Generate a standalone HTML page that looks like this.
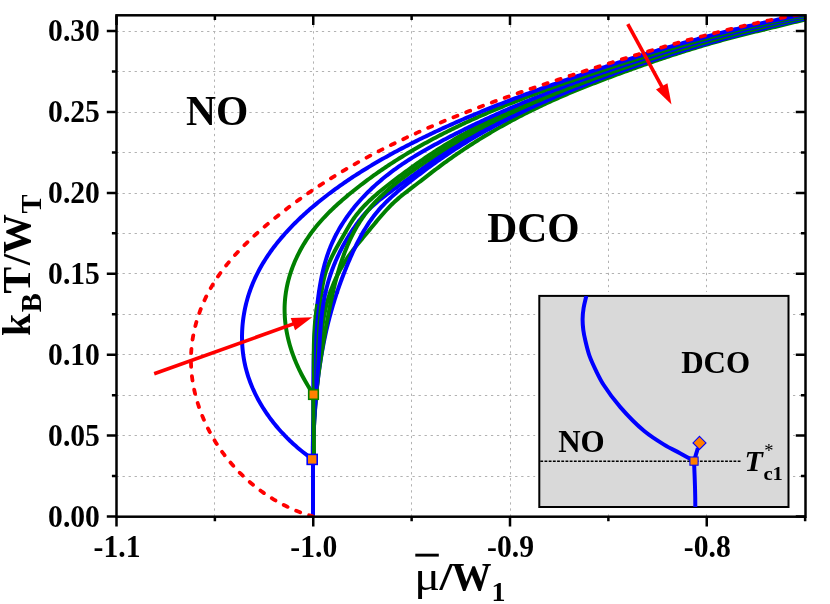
<!DOCTYPE html>
<html><head><meta charset="utf-8"><title>Phase diagram</title>
<style>html,body{margin:0;padding:0;background:#fff}body{width:830px;height:604px;overflow:hidden}svg{display:block;will-change:transform}text{font-family:"Liberation Serif",serif;font-weight:bold;fill:#000}</style></head><body>
<svg width="830" height="604" viewBox="0 0 830 604">
<rect x="0" y="0" width="830" height="604" fill="#fff"/>
<defs><clipPath id="pc"><rect x="116.5" y="15.3" width="689" height="501.4"/></clipPath><clipPath id="ic"><rect x="539.3" y="295.9" width="249.2" height="211.1"/></clipPath></defs>
<path d="M214.5 516.7V15.3M313.5 516.7V15.3M411.5 516.7V15.3M510.5 516.7V15.3M608.5 516.7V15.3M706.5 516.7V15.3M116.5 476.5H805.5M116.5 435.5H805.5M116.5 395.5H805.5M116.5 354.5H805.5M116.5 314.5H805.5M116.5 273.5H805.5M116.5 233.5H805.5M116.5 193.5H805.5M116.5 152.5H805.5M116.5 112.5H805.5M116.5 71.5H805.5M116.5 31.5H805.5" fill="none" stroke="#b2b2b2" stroke-width="1" stroke-dasharray="2.3 3.74"/>
<g clip-path="url(#pc)" fill="none" stroke-width="4" stroke-linejoin="round">
<path d="M330.31 292.02L330.99 290.12L331.69 288.24L332.42 286.36L333.18 284.49L333.96 282.63L334.77 280.78L335.6 278.95L336.46 277.12L337.34 275.3L338.24 273.5L339.17 271.71L340.12 269.93L341.09 268.17L342.09 266.42L343.11 264.68L344.15 262.96L345.22 261.26L346.3 259.57L347.41 257.89L348.54 256.24L349.69 254.6L350.86 252.97L352.05 251.36L353.25 249.77L354.47 248.19L355.71 246.62L356.95 245.06L358.21 243.5L359.47 241.95L360.75 240.41L362.03 238.87L363.31 237.33L364.59 235.8L365.88 234.26L367.16 232.72L368.44 231.17L369.72 229.63L371.01 228.08L372.29 226.53L373.57 224.98L374.85 223.43L376.14 221.88L377.43 220.34L378.72 218.8L380.03 217.27L381.34 215.74L382.66 214.23L383.99 212.73L385.33 211.24L386.68 209.76L388.05 208.3L389.44 206.86L390.84 205.43L392.26 204.03L393.7 202.64L395.17 201.28L396.65 199.94L398.15 198.63L399.68 197.33L401.22 196.06L402.77 194.79L404.34 193.55L405.92 192.31L407.5 191.08L409.1 189.86L410.69 188.64L412.3 187.42L413.9 186.2L415.5 184.98L417.1 183.76L418.69 182.53L420.29 181.3L421.88 180.06L423.48 178.83L425.07 177.6L426.66 176.36L428.26 175.13L429.85 173.89L431.45 172.66L433.05 171.44L434.65 170.21L436.26 168.99L437.86 167.78L439.48 166.57L441.09 165.36L442.71 164.17L444.33 162.98L445.96 161.79L447.59 160.61L449.23 159.44L450.87 158.28L452.52 157.12L454.16 155.96L455.82 154.82L457.47 153.68L459.13 152.54L460.8 151.41L462.46 150.29L464.14 149.18L465.81 148.07L467.49 146.96L469.17 145.86L470.86 144.77L472.55 143.69L474.24 142.61L475.94 141.53L477.64 140.47L479.35 139.41L481.06 138.35L482.77 137.3L484.48 136.26L486.2 135.22L487.93 134.19L489.65 133.16L491.38 132.14L493.11 131.13L494.85 130.12L496.59 129.11L498.33 128.12L500.08 127.13L501.83 126.14L503.58 125.16L505.34 124.19L507.1 123.22L508.86 122.26L510.62 121.3L512.39 120.35L514.16 119.4L515.94 118.46L517.72 117.53L519.5 116.6L521.28 115.67L523.07 114.75L524.85 113.84L526.65 112.93L528.44 112.03L530.24 111.14L532.04 110.24L533.84 109.36L535.65 108.48L537.46 107.6L539.27 106.73L541.08 105.87L542.9 105.01L544.72 104.16L546.54 103.31L548.37 102.47L550.19 101.63L552.02 100.8L553.86 99.97L555.69 99.15L557.53 98.33L559.37 97.52L561.21 96.71L563.05 95.91L564.9 95.11L566.75 94.32L568.6 93.53L570.45 92.75L572.31 91.98L574.17 91.2L576.03 90.44L577.89 89.68L579.75 88.92L581.62 88.17L583.49 87.42L585.36 86.68L587.23 85.94L589.1 85.2L590.97 84.47L592.85 83.74L594.73 83.02L596.6 82.3L598.48 81.58L600.36 80.86L602.24 80.14L604.12 79.43L606 78.71L607.89 78L609.77 77.29L611.65 76.59L613.53 75.88L615.42 75.18L617.3 74.48L619.19 73.78L621.07 73.08L622.96 72.39L624.85 71.7L626.73 71.01L628.62 70.32L630.51 69.64L632.4 68.95L634.29 68.27L636.19 67.59L638.08 66.92L639.97 66.25L641.86 65.58L643.76 64.91L645.65 64.24L647.55 63.58L649.45 62.92L651.35 62.26L653.25 61.61L655.14 60.96L657.05 60.31L658.95 59.66L660.85 59.02L662.75 58.38L664.66 57.74L666.56 57.11L668.47 56.48L670.37 55.85L672.28 55.22L674.19 54.6L676.1 53.98L678.01 53.37L679.92 52.75L681.84 52.14L683.75 51.54L685.67 50.94L687.58 50.34L689.5 49.74L691.42 49.15L693.34 48.56L695.26 47.97L697.18 47.39L699.1 46.81L701.02 46.24L702.95 45.67L704.88 45.1L706.8 44.54L708.73 43.98L710.66 43.42L712.59 42.87L714.52 42.32L716.46 41.78L718.39 41.23L720.33 40.7L722.26 40.16L724.2 39.64L726.14 39.11L728.08 38.59L730.02 38.07L731.97 37.56L733.91 37.05L735.86 36.55L737.8 36.05L739.75 35.55L741.7 35.06L743.65 34.56L745.6 34.07L747.55 33.59L749.5 33.1L751.46 32.62L753.41 32.14L755.36 31.66L757.32 31.19L759.27 30.71L761.23 30.24L763.18 29.77L765.14 29.29L767.09 28.82L769.05 28.35L771 27.88L772.96 27.41L774.91 26.94L776.87 26.47L778.82 26L780.78 25.52L782.73 25.05L784.68 24.57L786.64 24.1L788.59 23.62L790.54 23.14L792.49 22.66L794.44 22.17L796.39 21.69L798.34 21.2L800.28 20.71L802.23 20.21L804.17 19.71L806.12 19.21L808.06 18.71L810 18.2" stroke="#008000"/>
<path d="M336.73 293.24L337.37 291.33L338.02 289.43L338.68 287.53L339.35 285.63L340.03 283.74L340.71 281.84L341.41 279.95L342.12 278.07L342.83 276.18L343.56 274.3L344.29 272.43L345.03 270.55L345.78 268.68L346.54 266.81L347.31 264.94L348.08 263.08L348.87 261.22L349.66 259.36L350.46 257.51L351.27 255.66L352.09 253.82L352.93 251.99L353.77 250.16L354.63 248.33L355.49 246.52L356.38 244.71L357.27 242.92L358.18 241.13L359.11 239.35L360.05 237.58L361.01 235.82L361.98 234.08L362.97 232.35L363.98 230.62L365.01 228.92L366.06 227.22L367.13 225.55L368.21 223.88L369.32 222.23L370.45 220.6L371.6 218.99L372.78 217.39L373.97 215.81L375.19 214.24L376.44 212.7L377.71 211.18L379 209.67L380.32 208.19L381.66 206.72L383.02 205.27L384.41 203.84L385.81 202.42L387.23 201.02L388.67 199.63L390.13 198.26L391.61 196.9L393.1 195.56L394.6 194.23L396.12 192.91L397.65 191.6L399.19 190.3L400.75 189.01L402.31 187.73L403.88 186.45L405.46 185.19L407.05 183.93L408.64 182.68L410.23 181.43L411.84 180.19L413.44 178.95L415.05 177.72L416.66 176.49L418.27 175.27L419.88 174.05L421.49 172.83L423.11 171.61L424.73 170.41L426.35 169.2L427.97 168L429.6 166.81L431.23 165.62L432.86 164.44L434.5 163.26L436.14 162.09L437.78 160.93L439.43 159.77L441.08 158.62L442.73 157.48L444.39 156.34L446.05 155.22L447.72 154.09L449.39 152.98L451.07 151.87L452.75 150.77L454.43 149.68L456.11 148.59L457.8 147.51L459.5 146.44L461.19 145.37L462.89 144.31L464.6 143.25L466.31 142.2L468.02 141.16L469.73 140.13L471.45 139.1L473.17 138.07L474.9 137.06L476.62 136.05L478.36 135.04L480.09 134.04L481.83 133.05L483.57 132.06L485.31 131.08L487.06 130.11L488.81 129.14L490.57 128.17L492.32 127.21L494.08 126.26L495.85 125.31L497.61 124.37L499.38 123.43L501.15 122.5L502.93 121.58L504.7 120.66L506.49 119.74L508.27 118.83L510.05 117.92L511.84 117.02L513.63 116.13L515.43 115.24L517.22 114.35L519.02 113.47L520.82 112.6L522.63 111.73L524.43 110.86L526.24 110L528.05 109.14L529.87 108.29L531.68 107.44L533.5 106.59L535.32 105.75L537.15 104.92L538.97 104.09L540.8 103.26L542.63 102.44L544.46 101.62L546.29 100.81L548.13 100L549.97 99.19L551.81 98.39L553.65 97.59L555.49 96.79L557.34 96L559.18 95.21L561.03 94.43L562.88 93.65L564.74 92.87L566.59 92.1L568.45 91.33L570.3 90.56L572.16 89.8L574.03 89.04L575.89 88.28L577.75 87.53L579.62 86.78L581.48 86.03L583.35 85.28L585.22 84.54L587.09 83.8L588.97 83.07L590.84 82.34L592.71 81.61L594.59 80.88L596.47 80.16L598.35 79.44L600.23 78.72L602.11 78.01L603.99 77.3L605.87 76.59L607.75 75.89L609.64 75.19L611.52 74.5L613.41 73.8L615.29 73.11L617.18 72.43L619.07 71.74L620.96 71.06L622.85 70.38L624.74 69.71L626.64 69.04L628.53 68.37L630.42 67.7L632.32 67.04L634.21 66.38L636.11 65.73L638.01 65.07L639.91 64.42L641.81 63.78L643.71 63.13L645.61 62.49L647.51 61.85L649.42 61.22L651.32 60.59L653.22 59.96L655.13 59.33L657.04 58.71L658.94 58.09L660.85 57.47L662.76 56.85L664.67 56.24L666.58 55.63L668.49 55.03L670.41 54.42L672.32 53.82L674.23 53.22L676.15 52.63L678.07 52.04L679.98 51.45L681.9 50.86L683.82 50.27L685.74 49.69L687.66 49.11L689.58 48.54L691.5 47.96L693.42 47.39L695.34 46.82L697.27 46.26L699.19 45.69L701.12 45.13L703.04 44.57L704.97 44.02L706.9 43.47L708.82 42.91L710.75 42.37L712.68 41.82L714.61 41.28L716.54 40.74L718.48 40.2L720.41 39.66L722.34 39.13L724.27 38.6L726.21 38.07L728.14 37.54L730.08 37.02L732.02 36.5L733.95 35.98L735.89 35.46L737.83 34.95L739.77 34.44L741.71 33.93L743.65 33.42L745.59 32.91L747.53 32.41L749.48 31.91L751.42 31.41L753.36 30.91L755.31 30.42L757.25 29.93L759.2 29.44L761.15 28.95L763.09 28.46L765.04 27.98L766.99 27.5L768.94 27.02L770.89 26.54L772.84 26.07L774.79 25.59L776.74 25.12L778.69 24.65L780.65 24.19L782.6 23.72L784.55 23.26L786.51 22.8L788.46 22.34L790.42 21.88L792.37 21.43L794.33 20.97L796.29 20.52L798.24 20.07L800.2 19.63L802.16 19.18L804.12 18.74L806.08 18.29L808.04 17.85L810 17.42" stroke="#0000ff"/>
<path d="M325.29 293.42L325.73 291.47L326.2 289.53L326.68 287.6L327.18 285.67L327.71 283.74L328.25 281.82L328.82 279.91L329.41 278L330.02 276.1L330.65 274.2L331.3 272.31L331.97 270.42L332.67 268.54L333.38 266.66L334.12 264.8L334.88 262.93L335.66 261.08L336.47 259.23L337.29 257.39L338.14 255.55L339 253.73L339.89 251.91L340.79 250.1L341.72 248.3L342.66 246.51L343.63 244.72L344.61 242.95L345.61 241.19L346.63 239.44L347.66 237.7L348.72 235.98L349.79 234.26L350.88 232.56L351.98 230.87L353.1 229.2L354.24 227.54L355.39 225.89L356.55 224.26L357.74 222.64L358.94 221.04L360.17 219.47L361.41 217.91L362.68 216.37L363.97 214.86L365.28 213.36L366.62 211.9L367.99 210.46L369.38 209.05L370.8 207.66L372.25 206.3L373.72 204.97L375.21 203.65L376.73 202.36L378.26 201.08L379.81 199.82L381.38 198.58L382.96 197.35L384.55 196.13L386.15 194.92L387.77 193.72L389.39 192.53L391.01 191.34L392.64 190.16L394.27 188.97L395.9 187.79L397.53 186.61L399.17 185.43L400.8 184.24L402.43 183.06L404.06 181.88L405.69 180.69L407.32 179.51L408.95 178.33L410.58 177.14L412.21 175.95L413.83 174.77L415.46 173.58L417.09 172.39L418.71 171.21L420.34 170.02L421.96 168.83L423.59 167.65L425.22 166.47L426.85 165.29L428.48 164.11L430.11 162.94L431.75 161.77L433.38 160.61L435.02 159.45L436.67 158.3L438.32 157.16L439.97 156.02L441.62 154.88L443.29 153.76L444.95 152.64L446.62 151.53L448.3 150.43L449.97 149.34L451.66 148.25L453.34 147.16L455.04 146.09L456.73 145.02L458.43 143.96L460.13 142.91L461.84 141.86L463.55 140.82L465.27 139.79L466.99 138.76L468.71 137.74L470.44 136.72L472.17 135.72L473.9 134.71L475.64 133.72L477.38 132.73L479.13 131.75L480.88 130.77L482.63 129.8L484.39 128.84L486.15 127.88L487.91 126.92L489.68 125.98L491.44 125.04L493.22 124.1L494.99 123.17L496.77 122.25L498.55 121.33L500.34 120.42L502.13 119.51L503.92 118.61L505.71 117.71L507.51 116.82L509.31 115.93L511.11 115.05L512.92 114.18L514.72 113.31L516.54 112.44L518.35 111.58L520.16 110.72L521.98 109.87L523.8 109.03L525.63 108.19L527.45 107.35L529.28 106.52L531.11 105.69L532.95 104.87L534.78 104.05L536.62 103.24L538.46 102.43L540.3 101.62L542.14 100.82L543.99 100.02L545.84 99.23L547.68 98.44L549.54 97.66L551.39 96.88L553.24 96.1L555.1 95.33L556.96 94.56L558.82 93.8L560.68 93.03L562.55 92.28L564.41 91.52L566.28 90.77L568.15 90.02L570.01 89.28L571.89 88.54L573.76 87.8L575.63 87.07L577.51 86.34L579.38 85.61L581.26 84.89L583.14 84.17L585.02 83.45L586.9 82.74L588.78 82.02L590.66 81.31L592.54 80.61L594.43 79.9L596.31 79.2L598.2 78.5L600.08 77.81L601.97 77.11L603.86 76.42L605.75 75.74L607.63 75.05L609.52 74.37L611.41 73.68L613.31 73.01L615.2 72.33L617.09 71.66L618.98 70.99L620.88 70.32L622.77 69.65L624.67 68.99L626.56 68.33L628.46 67.67L630.36 67.01L632.25 66.36L634.15 65.71L636.05 65.06L637.95 64.41L639.85 63.77L641.75 63.13L643.66 62.49L645.56 61.86L647.46 61.22L649.37 60.59L651.27 59.96L653.18 59.34L655.08 58.71L656.99 58.09L658.9 57.48L660.81 56.86L662.72 56.25L664.63 55.64L666.54 55.03L668.45 54.42L670.36 53.82L672.27 53.22L674.19 52.62L676.1 52.02L678.01 51.43L679.93 50.84L681.85 50.25L683.76 49.67L685.68 49.08L687.6 48.5L689.52 47.92L691.44 47.35L693.36 46.78L695.28 46.21L697.2 45.64L699.13 45.07L701.05 44.51L702.98 43.95L704.9 43.39L706.83 42.84L708.75 42.28L710.68 41.73L712.61 41.19L714.54 40.64L716.47 40.1L718.4 39.56L720.33 39.02L722.26 38.48L724.19 37.95L726.13 37.42L728.06 36.89L730 36.37L731.93 35.85L733.87 35.33L735.81 34.81L737.75 34.29L739.68 33.78L741.62 33.27L743.56 32.76L745.5 32.26L747.45 31.76L749.39 31.26L751.33 30.76L753.28 30.27L755.22 29.77L757.17 29.28L759.11 28.8L761.06 28.31L763.01 27.83L764.96 27.35L766.91 26.87L768.86 26.4L770.81 25.93L772.76 25.46L774.71 24.99L776.67 24.53L778.62 24.07L780.58 23.61L782.53 23.15L784.49 22.7L786.45 22.24L788.41 21.8L790.37 21.35L792.33 20.91L794.29 20.46L796.25 20.03L798.21 19.59L800.17 19.16L802.14 18.72L804.1 18.3L806.07 17.87L808.03 17.45L810 17.02" stroke="#0000ff"/>
<path d="M332.96 292.13L333.41 290.17L333.88 288.21L334.35 286.26L334.83 284.3L335.32 282.35L335.82 280.41L336.34 278.46L336.87 276.52L337.41 274.58L337.96 272.65L338.52 270.72L339.1 268.79L339.69 266.87L340.3 264.95L340.92 263.03L341.56 261.12L342.21 259.22L342.88 257.32L343.57 255.42L344.27 253.53L344.99 251.65L345.73 249.78L346.49 247.91L347.26 246.05L348.05 244.2L348.87 242.36L349.7 240.53L350.55 238.71L351.42 236.91L352.31 235.11L353.22 233.33L354.15 231.55L355.11 229.8L356.09 228.05L357.08 226.32L358.1 224.61L359.15 222.91L360.21 221.22L361.3 219.56L362.42 217.91L363.56 216.27L364.72 214.66L365.91 213.06L367.12 211.48L368.36 209.93L369.62 208.39L370.91 206.87L372.22 205.37L373.55 203.89L374.91 202.42L376.29 200.98L377.69 199.55L379.1 198.13L380.54 196.73L381.99 195.35L383.46 193.98L384.95 192.63L386.46 191.29L387.97 189.96L389.51 188.64L391.05 187.34L392.61 186.05L394.18 184.77L395.76 183.5L397.35 182.25L398.95 181L400.56 179.76L402.17 178.53L403.79 177.31L405.42 176.1L407.06 174.89L408.69 173.69L410.33 172.5L411.98 171.31L413.63 170.13L415.27 168.96L416.92 167.79L418.57 166.62L420.22 165.46L421.88 164.3L423.53 163.15L425.19 162.01L426.84 160.87L428.5 159.73L430.17 158.61L431.83 157.48L433.5 156.37L435.17 155.26L436.84 154.15L438.52 153.05L440.2 151.96L441.89 150.88L443.58 149.8L445.27 148.73L446.97 147.67L448.67 146.61L450.38 145.56L452.09 144.51L453.8 143.47L455.52 142.44L457.24 141.41L458.96 140.39L460.69 139.38L462.42 138.37L464.16 137.37L465.89 136.37L467.64 135.38L469.38 134.4L471.13 133.42L472.88 132.45L474.64 131.48L476.4 130.52L478.16 129.56L479.92 128.61L481.69 127.67L483.46 126.73L485.24 125.8L487.01 124.87L488.79 123.95L490.58 123.03L492.36 122.12L494.15 121.21L495.95 120.31L497.74 119.41L499.54 118.52L501.34 117.64L503.14 116.75L504.95 115.88L506.75 115.01L508.57 114.14L510.38 113.28L512.2 112.42L514.01 111.57L515.83 110.72L517.66 109.88L519.48 109.04L521.31 108.2L523.14 107.37L524.97 106.55L526.81 105.73L528.64 104.91L530.48 104.1L532.32 103.29L534.17 102.49L536.01 101.69L537.86 100.89L539.71 100.1L541.56 99.31L543.41 98.53L545.27 97.75L547.12 96.97L548.98 96.2L550.84 95.43L552.7 94.66L554.56 93.9L556.43 93.14L558.3 92.39L560.16 91.64L562.03 90.89L563.9 90.15L565.77 89.41L567.65 88.67L569.52 87.94L571.4 87.2L573.28 86.48L575.15 85.75L577.03 85.03L578.91 84.31L580.8 83.59L582.68 82.88L584.56 82.17L586.45 81.46L588.33 80.76L590.22 80.06L592.11 79.36L594 78.66L595.88 77.97L597.77 77.28L599.66 76.59L601.56 75.9L603.45 75.22L605.34 74.53L607.23 73.86L609.13 73.18L611.02 72.5L612.92 71.83L614.81 71.16L616.71 70.49L618.61 69.83L620.5 69.17L622.4 68.51L624.3 67.85L626.2 67.19L628.1 66.54L630 65.89L631.91 65.24L633.81 64.6L635.71 63.95L637.62 63.31L639.52 62.68L641.43 62.04L643.33 61.41L645.24 60.78L647.15 60.15L649.05 59.52L650.96 58.9L652.87 58.28L654.78 57.66L656.69 57.04L658.61 56.43L660.52 55.82L662.43 55.21L664.34 54.61L666.26 54L668.17 53.4L670.09 52.8L672.01 52.21L673.92 51.61L675.84 51.02L677.76 50.43L679.68 49.85L681.6 49.27L683.52 48.68L685.44 48.11L687.37 47.53L689.29 46.96L691.21 46.39L693.14 45.82L695.06 45.25L696.99 44.69L698.91 44.13L700.84 43.57L702.77 43.01L704.7 42.46L706.63 41.91L708.56 41.36L710.49 40.82L712.42 40.28L714.36 39.74L716.29 39.2L718.22 38.66L720.16 38.13L722.09 37.6L724.03 37.07L725.97 36.55L727.9 36.03L729.84 35.51L731.78 34.99L733.72 34.48L735.66 33.96L737.61 33.45L739.55 32.95L741.49 32.44L743.44 31.94L745.38 31.44L747.33 30.95L749.27 30.45L751.22 29.96L753.17 29.47L755.12 28.99L757.07 28.51L759.02 28.03L760.97 27.55L762.92 27.07L764.87 26.6L766.82 26.13L768.78 25.66L770.73 25.2L772.69 24.74L774.65 24.28L776.6 23.82L778.56 23.37L780.52 22.91L782.48 22.47L784.44 22.02L786.4 21.58L788.36 21.14L790.33 20.7L792.29 20.26L794.25 19.83L796.22 19.4L798.19 18.97L800.15 18.55L802.12 18.13L804.09 17.71L806.06 17.29L808.03 16.88L810 16.46" stroke="#008000"/>
<path d="M321.43 292.94L321.71 290.95L322.01 288.96L322.33 286.98L322.68 285L323.05 283.03L323.45 281.07L323.88 279.12L324.34 277.18L324.84 275.25L325.38 273.33L325.95 271.43L326.57 269.54L327.23 267.66L327.93 265.8L328.66 263.94L329.43 262.1L330.23 260.27L331.05 258.45L331.91 256.64L332.79 254.84L333.7 253.04L334.62 251.26L335.56 249.48L336.52 247.7L337.5 245.93L338.48 244.17L339.47 242.41L340.48 240.65L341.48 238.9L342.49 237.15L343.5 235.4L344.5 233.65L345.51 231.91L346.51 230.16L347.52 228.43L348.54 226.7L349.58 224.98L350.63 223.27L351.7 221.58L352.8 219.91L353.94 218.26L355.1 216.64L356.31 215.04L357.55 213.46L358.83 211.91L360.13 210.39L361.46 208.88L362.82 207.4L364.19 205.94L365.59 204.5L367 203.08L368.43 201.68L369.88 200.29L371.35 198.93L372.83 197.57L374.32 196.24L375.83 194.91L377.36 193.61L378.89 192.31L380.44 191.02L381.99 189.75L383.56 188.49L385.13 187.23L386.71 185.98L388.3 184.75L389.89 183.51L391.49 182.29L393.09 181.07L394.69 179.85L396.3 178.64L397.91 177.42L399.52 176.22L401.14 175.02L402.75 173.82L404.37 172.62L405.99 171.43L407.61 170.24L409.24 169.06L410.87 167.88L412.5 166.71L414.14 165.54L415.77 164.38L417.42 163.22L419.06 162.07L420.71 160.92L422.36 159.78L424.01 158.65L425.67 157.52L427.33 156.39L429 155.28L430.67 154.17L432.34 153.06L434.02 151.96L435.7 150.87L437.38 149.79L439.07 148.71L440.77 147.64L442.46 146.58L444.16 145.52L445.87 144.48L447.58 143.43L449.3 142.4L451.01 141.37L452.74 140.35L454.46 139.34L456.19 138.33L457.93 137.33L459.67 136.34L461.41 135.35L463.15 134.37L464.9 133.4L466.66 132.43L468.41 131.47L470.17 130.52L471.94 129.57L473.71 128.63L475.48 127.69L477.25 126.76L479.03 125.84L480.81 124.92L482.59 124.01L484.38 123.1L486.17 122.2L487.97 121.31L489.76 120.42L491.56 119.54L493.37 118.66L495.17 117.79L496.98 116.92L498.79 116.06L500.61 115.2L502.42 114.35L504.24 113.5L506.07 112.66L507.89 111.82L509.72 110.99L511.55 110.16L513.38 109.34L515.22 108.52L517.05 107.71L518.89 106.9L520.74 106.1L522.58 105.3L524.43 104.51L526.28 103.72L528.13 102.93L529.98 102.15L531.84 101.37L533.69 100.6L535.55 99.83L537.41 99.06L539.28 98.3L541.14 97.54L543.01 96.79L544.87 96.04L546.74 95.29L548.62 94.55L550.49 93.81L552.36 93.07L554.24 92.34L556.12 91.61L558 90.88L559.88 90.16L561.76 89.44L563.64 88.72L565.52 88.01L567.41 87.29L569.29 86.59L571.18 85.88L573.07 85.18L574.96 84.48L576.85 83.78L578.74 83.09L580.63 82.39L582.53 81.7L584.42 81.02L586.31 80.33L588.21 79.65L590.1 78.97L592 78.29L593.9 77.61L595.79 76.94L597.69 76.26L599.59 75.59L601.49 74.92L603.39 74.26L605.29 73.59L607.18 72.93L609.08 72.27L610.98 71.61L612.88 70.95L614.79 70.29L616.69 69.64L618.59 68.98L620.49 68.33L622.39 67.69L624.3 67.04L626.2 66.39L628.1 65.75L630.01 65.11L631.91 64.47L633.82 63.84L635.72 63.2L637.63 62.57L639.53 61.94L641.44 61.31L643.35 60.68L645.26 60.06L647.16 59.44L649.07 58.82L650.98 58.2L652.89 57.58L654.8 56.97L656.71 56.36L658.63 55.75L660.54 55.14L662.45 54.53L664.36 53.93L666.28 53.33L668.19 52.73L670.11 52.14L672.02 51.54L673.94 50.95L675.86 50.36L677.77 49.78L679.69 49.19L681.61 48.61L683.53 48.03L685.45 47.45L687.37 46.88L689.29 46.3L691.21 45.73L693.13 45.17L695.06 44.6L696.98 44.04L698.91 43.48L700.83 42.92L702.76 42.36L704.68 41.81L706.61 41.26L708.54 40.71L710.47 40.17L712.4 39.63L714.33 39.09L716.26 38.55L718.19 38.01L720.13 37.48L722.06 36.95L723.99 36.42L725.93 35.9L727.87 35.38L729.8 34.86L731.74 34.34L733.68 33.83L735.62 33.32L737.56 32.81L739.5 32.31L741.44 31.8L743.38 31.3L745.33 30.81L747.27 30.31L749.22 29.82L751.16 29.33L753.11 28.85L755.06 28.37L757.01 27.89L758.96 27.41L760.91 26.93L762.86 26.46L764.81 26L766.77 25.53L768.72 25.07L770.68 24.61L772.63 24.15L774.59 23.7L776.55 23.25L778.51 22.8L780.47 22.36L782.43 21.92L784.39 21.48L786.36 21.04L788.32 20.61L790.29 20.18L792.25 19.76L794.22 19.34L796.19 18.92L798.16 18.5L800.13 18.09L802.1 17.68L804.07 17.27L806.05 16.87L808.02 16.47L810 16.07" stroke="#008000"/>
<path d="M318.85 292.82L319.14 290.83L319.45 288.84L319.77 286.85L320.1 284.87L320.45 282.89L320.81 280.91L321.19 278.94L321.59 276.97L322 275.01L322.43 273.05L322.88 271.1L323.34 269.15L323.83 267.21L324.34 265.28L324.86 263.35L325.41 261.43L325.98 259.51L326.58 257.6L327.19 255.7L327.83 253.81L328.5 251.93L329.19 250.06L329.91 248.19L330.65 246.34L331.42 244.49L332.22 242.66L333.05 240.83L333.91 239.02L334.79 237.21L335.69 235.42L336.63 233.64L337.58 231.87L338.56 230.11L339.57 228.36L340.6 226.63L341.65 224.91L342.73 223.2L343.82 221.5L344.94 219.82L346.08 218.15L347.23 216.49L348.41 214.85L349.61 213.22L350.82 211.61L352.05 210.01L353.3 208.43L354.57 206.86L355.85 205.3L357.15 203.77L358.47 202.24L359.79 200.73L361.14 199.24L362.5 197.76L363.87 196.3L365.26 194.85L366.66 193.42L368.08 192L369.51 190.59L370.95 189.2L372.41 187.83L373.88 186.46L375.36 185.11L376.85 183.78L378.36 182.46L379.88 181.15L381.41 179.86L382.95 178.58L384.5 177.31L386.06 176.05L387.64 174.81L389.22 173.58L390.82 172.37L392.42 171.16L394.04 169.97L395.66 168.8L397.29 167.63L398.93 166.48L400.58 165.34L402.24 164.21L403.91 163.09L405.59 161.98L407.27 160.89L408.96 159.8L410.66 158.73L412.36 157.67L414.07 156.61L415.79 155.57L417.51 154.53L419.24 153.5L420.97 152.48L422.71 151.47L424.46 150.47L426.2 149.48L427.96 148.49L429.71 147.51L431.48 146.53L433.24 145.56L435.01 144.6L436.78 143.64L438.55 142.69L440.32 141.74L442.1 140.79L443.88 139.85L445.66 138.92L447.45 137.99L449.23 137.06L451.02 136.14L452.81 135.22L454.6 134.31L456.39 133.4L458.19 132.49L459.99 131.59L461.79 130.69L463.59 129.8L465.39 128.91L467.2 128.02L469 127.14L470.81 126.26L472.62 125.39L474.43 124.52L476.25 123.66L478.06 122.79L479.88 121.94L481.7 121.08L483.52 120.23L485.34 119.38L487.17 118.54L488.99 117.7L490.82 116.87L492.65 116.04L494.48 115.21L496.32 114.38L498.15 113.56L499.99 112.74L501.82 111.93L503.66 111.12L505.5 110.31L507.34 109.51L509.19 108.71L511.03 107.91L512.88 107.12L514.73 106.33L516.58 105.54L518.43 104.76L520.28 103.98L522.13 103.2L523.99 102.43L525.84 101.66L527.7 100.89L529.56 100.13L531.42 99.37L533.28 98.61L535.14 97.85L537.01 97.1L538.87 96.35L540.74 95.61L542.61 94.86L544.48 94.12L546.35 93.38L548.22 92.65L550.09 91.92L551.96 91.19L553.84 90.46L555.71 89.74L557.59 89.02L559.47 88.3L561.35 87.59L563.23 86.87L565.11 86.16L566.99 85.46L568.87 84.75L570.75 84.05L572.64 83.35L574.52 82.65L576.41 81.96L578.3 81.27L580.19 80.58L582.08 79.89L583.97 79.2L585.86 78.52L587.75 77.84L589.64 77.16L591.53 76.49L593.43 75.81L595.32 75.14L597.22 74.47L599.11 73.81L601.01 73.14L602.91 72.48L604.81 71.82L606.7 71.16L608.6 70.5L610.5 69.85L612.41 69.19L614.31 68.54L616.21 67.9L618.11 67.25L620.02 66.61L621.92 65.97L623.83 65.33L625.73 64.69L627.64 64.05L629.55 63.42L631.45 62.79L633.36 62.16L635.27 61.54L637.18 60.91L639.09 60.29L641 59.67L642.92 59.06L644.83 58.44L646.74 57.83L648.66 57.22L650.57 56.61L652.49 56.01L654.4 55.4L656.32 54.8L658.24 54.2L660.16 53.61L662.08 53.01L664 52.42L665.92 51.83L667.84 51.25L669.76 50.66L671.68 50.08L673.61 49.5L675.53 48.92L677.45 48.35L679.38 47.78L681.31 47.21L683.23 46.64L685.16 46.07L687.09 45.51L689.02 44.95L690.95 44.39L692.88 43.84L694.81 43.29L696.74 42.74L698.67 42.19L700.61 41.64L702.54 41.1L704.48 40.56L706.41 40.02L708.35 39.49L710.28 38.95L712.22 38.42L714.16 37.9L716.1 37.37L718.04 36.85L719.98 36.33L721.92 35.81L723.86 35.3L725.8 34.79L727.75 34.28L729.69 33.77L731.63 33.27L733.58 32.76L735.53 32.27L737.47 31.77L739.42 31.28L741.37 30.79L743.32 30.3L745.27 29.81L747.22 29.33L749.17 28.85L751.12 28.37L753.07 27.9L755.02 27.42L756.98 26.96L758.93 26.49L760.89 26.03L762.84 25.56L764.8 25.11L766.76 24.65L768.72 24.2L770.67 23.75L772.63 23.3L774.59 22.86L776.55 22.41L778.52 21.98L780.48 21.54L782.44 21.11L784.41 20.68L786.37 20.25L788.34 19.82L790.3 19.4L792.27 18.98L794.24 18.57L796.2 18.15L798.17 17.74L800.14 17.34L802.11 16.93L804.08 16.53L806.05 16.13L808.03 15.74L810 15.34" stroke="#0000ff"/>
<path d="M313 459.4L313 457.38L313.02 455.37L313.04 453.35L313.07 451.34L313.1 449.33L313.15 447.31L313.2 445.3L313.26 443.29L313.32 441.28L313.4 439.27L313.48 437.27L313.56 435.26L313.65 433.25L313.75 431.25L313.85 429.24L313.96 427.24L314.07 425.23L314.19 423.23L314.31 421.22L314.44 419.22L314.57 417.22L314.7 415.22L314.84 413.21L314.99 411.21L315.13 409.21L315.28 407.21L315.44 405.21L315.59 403.21L315.75 401.21L315.91 399.2L316.07 397.2L316.24 395.2L316.4 393.2L316.57 391.2L316.74 389.2L316.91 387.2L317.08 385.2L317.25 383.2L317.43 381.19L317.6 379.19L317.77 377.19L317.94 375.19L318.12 373.18L318.29 371.18L318.46 369.18L318.63 367.17L318.8 365.17L318.96 363.16L319.13 361.16L319.29 359.15L319.45 357.14L319.61 355.14L319.78 353.13L319.94 351.12L320.1 349.11L320.27 347.11L320.45 345.1L320.62 343.1L320.81 341.09L321 339.09L321.2 337.09L321.41 335.09L321.63 333.09L321.86 331.1L322.1 329.11L322.36 327.12L322.63 325.13L322.91 323.15L323.21 321.17L323.53 319.19L323.87 317.22L324.22 315.25L324.6 313.29L324.99 311.33L325.41 309.37L325.85 307.42L326.32 305.47L326.81 303.53L327.32 301.6L327.87 299.67L328.44 297.75L329.04 295.83L329.66 293.92L330.31 292.02L330.99 290.12" stroke="#008000"/>
<path d="M313 459.4L313.03 457.4L313.06 455.39L313.09 453.38L313.13 451.38L313.17 449.37L313.22 447.37L313.27 445.36L313.33 443.35L313.39 441.35L313.45 439.34L313.52 437.33L313.6 435.33L313.67 433.32L313.76 431.31L313.85 429.3L313.94 427.3L314.04 425.29L314.14 423.29L314.25 421.28L314.37 419.27L314.49 417.27L314.62 415.26L314.75 413.26L314.89 411.25L315.03 409.25L315.18 407.25L315.33 405.24L315.5 403.24L315.66 401.24L315.84 399.24L316.02 397.24L316.2 395.24L316.4 393.24L316.59 391.24L316.8 389.25L317.01 387.25L317.23 385.26L317.46 383.26L317.69 381.27L317.93 379.28L318.18 377.29L318.44 375.3L318.7 373.31L318.97 371.32L319.24 369.33L319.53 367.35L319.82 365.37L320.12 363.38L320.43 361.4L320.74 359.42L321.07 357.44L321.4 355.47L321.74 353.49L322.08 351.52L322.44 349.55L322.8 347.58L323.18 345.61L323.56 343.64L323.95 341.68L324.35 339.71L324.75 337.75L325.17 335.79L325.59 333.84L326.03 331.88L326.47 329.93L326.92 327.98L327.39 326.03L327.86 324.08L328.34 322.13L328.83 320.19L329.33 318.25L329.84 316.31L330.35 314.37L330.88 312.44L331.42 310.51L331.97 308.58L332.53 306.65L333.1 304.73L333.68 302.81L334.27 300.89L334.87 298.97L335.48 297.06L336.1 295.15L336.73 293.24L337.37 291.33" stroke="#0000ff"/>
<path d="M313 459.4L312.97 457.38L312.95 455.36L312.94 453.34L312.94 451.32L312.95 449.31L312.96 447.29L312.99 445.28L313.02 443.26L313.06 441.25L313.11 439.24L313.16 437.23L313.23 435.22L313.3 433.21L313.38 431.2L313.47 429.19L313.56 427.18L313.66 425.18L313.77 423.17L313.89 421.17L314.01 419.17L314.15 417.16L314.28 415.16L314.43 413.16L314.58 411.16L314.74 409.16L314.9 407.16L315.07 405.16L315.25 403.16L315.44 401.17L315.63 399.17L315.82 397.18L316.03 395.18L316.24 393.19L316.45 391.19L316.67 389.2L316.9 387.21L317.13 385.22L317.37 383.23L317.61 381.24L317.86 379.25L318.11 377.26L318.37 375.27L318.63 373.28L318.9 371.29L319.18 369.3L319.45 367.32L319.74 365.33L320.03 363.34L320.32 361.36L320.61 359.37L320.92 357.39L321.22 355.41L321.53 353.42L321.84 351.44L322.16 349.45L322.48 347.47L322.81 345.49L323.14 343.51L323.47 341.53L323.81 339.54L324.15 337.56L324.49 335.58L324.84 333.6L325.19 331.62L325.54 329.64L325.89 327.66L326.25 325.68L326.62 323.7L326.98 321.73L327.35 319.75L327.72 317.77L328.09 315.79L328.46 313.81L328.85 311.84L329.23 309.86L329.62 307.88L330.01 305.91L330.41 303.94L330.82 301.96L331.23 299.99L331.65 298.03L332.08 296.06L332.52 294.09L332.96 292.13L333.41 290.17" stroke="#008000"/>
<path d="M313 459.4L313.03 457.39L313.06 455.38L313.09 453.36L313.11 451.35L313.14 449.34L313.17 447.33L313.2 445.32L313.23 443.31L313.26 441.3L313.29 439.29L313.32 437.28L313.35 435.27L313.38 433.26L313.42 431.26L313.45 429.25L313.49 427.24L313.52 425.23L313.56 423.22L313.6 421.22L313.64 419.21L313.68 417.2L313.72 415.19L313.76 413.19L313.8 411.18L313.85 409.17L313.9 407.17L313.95 405.16L314 403.15L314.05 401.15L314.1 399.14L314.16 397.14L314.22 395.13L314.28 393.13L314.34 391.12L314.4 389.12L314.47 387.11L314.54 385.11L314.61 383.1L314.69 381.1L314.76 379.09L314.84 377.09L314.92 375.08L315.01 373.08L315.09 371.08L315.18 369.07L315.28 367.07L315.37 365.06L315.47 363.06L315.57 361.06L315.68 359.05L315.79 357.05L315.9 355.05L316.02 353.04L316.13 351.04L316.26 349.03L316.38 347.03L316.51 345.03L316.65 343.02L316.78 341.02L316.92 339.02L317.07 337.01L317.22 335.01L317.37 333.01L317.53 331L317.69 329L317.85 327L318.02 324.99L318.2 322.99L318.38 320.99L318.56 318.98L318.75 316.98L318.94 314.98L319.14 312.97L319.34 310.97L319.55 308.96L319.76 306.96L319.98 304.96L320.2 302.95L320.43 300.95L320.66 298.94L320.9 296.94L321.16 294.94L321.43 292.94L321.71 290.95" stroke="#008000"/>
<path d="M313 459.4L312.94 457.38L312.89 455.35L312.86 453.33L312.84 451.32L312.83 449.3L312.83 447.28L312.85 445.27L312.87 443.26L312.91 441.25L312.96 439.24L313.01 437.23L313.08 435.23L313.15 433.22L313.24 431.22L313.33 429.22L313.43 427.21L313.53 425.21L313.65 423.21L313.77 421.22L313.9 419.22L314.03 417.22L314.17 415.22L314.31 413.23L314.46 411.23L314.61 409.23L314.77 407.24L314.93 405.24L315.09 403.25L315.26 401.25L315.43 399.26L315.6 397.26L315.77 395.27L315.94 393.27L316.12 391.28L316.29 389.28L316.46 387.29L316.64 385.29L316.81 383.29L316.98 381.3L317.15 379.3L317.32 377.3L317.48 375.3L317.64 373.3L317.8 371.3L317.96 369.3L318.11 367.29L318.26 365.29L318.4 363.28L318.53 361.28L318.66 359.27L318.79 357.26L318.91 355.25L319.03 353.23L319.14 351.22L319.25 349.21L319.37 347.2L319.48 345.18L319.59 343.17L319.7 341.16L319.82 339.14L319.94 337.13L320.06 335.12L320.19 333.11L320.33 331.1L320.47 329.09L320.62 327.09L320.78 325.08L320.95 323.08L321.13 321.08L321.32 319.08L321.53 317.09L321.75 315.1L321.98 313.11L322.23 311.12L322.49 309.14L322.78 307.16L323.08 305.18L323.39 303.21L323.73 301.24L324.09 299.28L324.47 297.32L324.87 295.37L325.29 293.42L325.73 291.47" stroke="#0000ff"/>
<path d="M313 459.4L313.04 457.39L313.07 455.39L313.1 453.38L313.13 451.37L313.15 449.37L313.17 447.36L313.19 445.35L313.21 443.34L313.22 441.34L313.23 439.33L313.24 437.32L313.25 435.31L313.26 433.3L313.26 431.29L313.27 429.28L313.27 427.27L313.27 425.26L313.27 423.25L313.27 421.24L313.27 419.23L313.26 417.22L313.26 415.21L313.26 413.2L313.26 411.19L313.25 409.18L313.25 407.17L313.25 405.16L313.25 403.15L313.25 401.13L313.25 399.12L313.25 397.11L313.26 395.1L313.26 393.09L313.27 391.08L313.28 389.07L313.29 387.06L313.3 385.05L313.31 383.04L313.33 381.03L313.35 379.01L313.37 377L313.4 374.99L313.42 372.98L313.46 370.97L313.49 368.96L313.53 366.95L313.57 364.94L313.61 362.93L313.66 360.92L313.72 358.92L313.78 356.91L313.84 354.9L313.9 352.89L313.98 350.88L314.05 348.87L314.13 346.87L314.22 344.86L314.31 342.85L314.41 340.85L314.52 338.84L314.63 336.83L314.74 334.83L314.86 332.82L314.99 330.82L315.13 328.81L315.27 326.81L315.41 324.81L315.57 322.8L315.73 320.8L315.9 318.8L316.08 316.8L316.26 314.79L316.45 312.79L316.65 310.79L316.86 308.79L317.08 306.79L317.3 304.79L317.54 302.8L317.78 300.8L318.03 298.8L318.29 296.81L318.56 294.81L318.85 292.82L319.14 290.83" stroke="#0000ff"/>
<path d="M313.5 395L313.47 392.93L313.43 390.86L313.4 388.79L313.36 386.72L313.32 384.65L313.28 382.58L313.24 380.5L313.2 378.43L313.16 376.36L313.12 374.29L313.08 372.21L313.05 370.14L313.02 368.07L312.99 365.99L312.96 363.92L312.94 361.84L312.93 359.77L312.92 357.7L312.92 355.62L312.92 353.55L312.94 351.48L312.96 349.41L312.99 347.34L313.02 345.26L313.07 343.19L313.13 341.12L313.19 339.05L313.27 336.98L313.36 334.92L313.47 332.85L313.58 330.78L313.71 328.71L313.85 326.65L314.01 324.58L314.18 322.52L314.37 320.46L314.58 318.4L314.8 316.34L315.03 314.28L315.29 312.22L315.56 310.16L315.86 308.11L316.17 306.05L316.5 304" stroke="#008000" stroke-width="2.3"/>
<path d="M314.1 459.4L313.2 394.3L313.4 394.3L312.32 392.67L311.24 391.02L310.17 389.36L309.12 387.68L308.08 385.99L307.06 384.28L306.05 382.55L305.05 380.81L304.07 379.06L303.11 377.29L302.16 375.51L301.23 373.71L300.32 371.91L299.43 370.09L298.56 368.25L297.71 366.41L296.88 364.55L296.08 362.69L295.29 360.81L294.53 358.92L293.8 357.03L293.08 355.12L292.4 353.21L291.74 351.28L291.1 349.35L290.49 347.41L289.91 345.46L289.36 343.51L288.84 341.55L288.34 339.59L287.87 337.62L287.44 335.64L287.03 333.66L286.65 331.68L286.3 329.69L285.99 327.71L285.7 325.72L285.45 323.72L285.23 321.73L285.04 319.73L284.88 317.74L284.76 315.75L284.67 313.75L284.61 311.76L284.59 309.77L284.6 307.78L284.65 305.8L284.74 303.81L284.86 301.83L285.01 299.86L285.2 297.89L285.42 295.92L285.68 293.96L285.96 292L286.29 290.05L286.64 288.1L287.03 286.16L287.45 284.23L287.89 282.3L288.38 280.38L288.89 278.46L289.43 276.55L290 274.66L290.6 272.76L291.23 270.88L291.89 269.01L292.58 267.14L293.3 265.28L294.04 263.44L294.81 261.6L295.61 259.77L296.44 257.96L297.29 256.15L298.17 254.36L299.08 252.57L300.01 250.8L300.96 249.04L301.94 247.29L302.95 245.56L303.97 243.83L305.03 242.12L306.1 240.43L307.2 238.75L308.32 237.08L309.46 235.42L310.63 233.78L311.81 232.16L313.02 230.55L314.25 228.96L315.5 227.38L316.77 225.82L318.06 224.27L319.37 222.74L320.69 221.22L322.03 219.72L323.39 218.23L324.77 216.76L326.16 215.3L327.57 213.85L328.99 212.42L330.43 211L331.88 209.59L333.34 208.19L334.81 206.81L336.3 205.43L337.8 204.07L339.3 202.72L340.82 201.38L342.35 200.05L343.88 198.73L345.42 197.42L346.97 196.12L348.53 194.82L350.09 193.54L351.66 192.26L353.23 191L354.81 189.74L356.39 188.48L357.97 187.24L359.57 186L361.16 184.78L362.76 183.56L364.37 182.34L365.98 181.14L367.59 179.94L369.21 178.75L370.83 177.57L372.46 176.39L374.09 175.22L375.73 174.06L377.37 172.91L379.01 171.76L380.66 170.62L382.31 169.49L383.97 168.36L385.63 167.25L387.3 166.14L388.97 165.03L390.64 163.93L392.32 162.84L394 161.76L395.69 160.68L397.38 159.61L399.07 158.55L400.77 157.49L402.47 156.44L404.17 155.4L405.88 154.36L407.59 153.33L409.31 152.31L411.03 151.29L412.75 150.27L414.47 149.27L416.2 148.27L417.94 147.27L419.67 146.29L421.41 145.3L423.16 144.33L424.9 143.36L426.65 142.39L428.41 141.44L430.16 140.48L431.92 139.54L433.69 138.6L435.45 137.66L437.22 136.73L438.99 135.81L440.77 134.89L442.55 133.97L444.33 133.06L446.11 132.16L447.9 131.26L449.69 130.37L451.48 129.48L453.28 128.6L455.08 127.72L456.88 126.85L458.68 125.98L460.49 125.12L462.3 124.26L464.11 123.41L465.92 122.56L467.74 121.72L469.56 120.88L471.38 120.05L473.2 119.22L475.03 118.39L476.86 117.57L478.69 116.76L480.52 115.94L482.36 115.14L484.2 114.33L486.04 113.54L487.88 112.74L489.72 111.95L491.57 111.16L493.42 110.38L495.27 109.6L497.12 108.83L498.97 108.06L500.83 107.29L502.69 106.53L504.55 105.77L506.41 105.01L508.27 104.26L510.14 103.51L512.01 102.77L513.87 102.03L515.74 101.29L517.62 100.55L519.49 99.82L521.36 99.09L523.24 98.37L525.12 97.65L527 96.93L528.88 96.22L530.76 95.5L532.64 94.79L534.53 94.09L536.41 93.38L538.3 92.68L540.19 91.99L542.08 91.29L543.97 90.6L545.86 89.91L547.75 89.22L549.65 88.54L551.54 87.86L553.44 87.18L555.33 86.5L557.23 85.82L559.13 85.15L561.03 84.48L562.93 83.81L564.83 83.15L566.73 82.48L568.63 81.82L570.54 81.16L572.44 80.51L574.34 79.85L576.25 79.2L578.15 78.54L580.06 77.89L581.96 77.25L583.87 76.6L585.78 75.95L587.68 75.31L589.59 74.67L591.5 74.03L593.41 73.39L595.31 72.75L597.22 72.11L599.13 71.48L601.04 70.84L602.95 70.21L604.85 69.58L606.76 68.95L608.67 68.32L610.58 67.69L612.49 67.07L614.4 66.44L616.31 65.82L618.22 65.2L620.13 64.57L622.04 63.96L623.95 63.34L625.86 62.72L627.77 62.11L629.68 61.49L631.59 60.88L633.5 60.27L635.41 59.66L637.32 59.06L639.23 58.45L641.15 57.85L643.06 57.24L644.97 56.64L646.89 56.05L648.8 55.45L650.71 54.85L652.63 54.26L654.54 53.67L656.46 53.08L658.37 52.49L660.29 51.91L662.21 51.32L664.12 50.74L666.04 50.16L667.96 49.59L669.88 49.01L671.8 48.44L673.72 47.87L675.64 47.3L677.56 46.73L679.48 46.16L681.4 45.6L683.32 45.04L685.24 44.48L687.17 43.93L689.09 43.37L691.01 42.82L692.94 42.27L694.86 41.72L696.79 41.18L698.72 40.64L700.65 40.1L702.57 39.56L704.5 39.03L706.43 38.49L708.36 37.96L710.29 37.44L712.23 36.91L714.16 36.39L716.09 35.87L718.03 35.35L719.96 34.84L721.9 34.33L723.83 33.82L725.77 33.31L727.71 32.81L729.65 32.31L731.59 31.81L733.53 31.31L735.47 30.82L737.41 30.33L739.35 29.85L741.3 29.36L743.24 28.88L745.19 28.4L747.14 27.93L749.08 27.46L751.03 26.99L752.98 26.52L754.93 26.06L756.89 25.6L758.84 25.14L760.79 24.69L762.75 24.24L764.7 23.79L766.66 23.35L768.62 22.91L770.58 22.47L772.54 22.04L774.5 21.61L776.46 21.18L778.42 20.76L780.39 20.34L782.35 19.92L784.32 19.5L786.29 19.09L788.26 18.69L790.23 18.28L792.2 17.88L794.17 17.49L796.15 17.1L798.12 16.71L800.1 16.32L802.08 15.94L804.06 15.56L806.04 15.19L808.02 14.82L810 14.45" stroke="#008000"/>
<path d="M313 517V459.4L313 459.4L311.39 458.29L309.79 457.17L308.2 456.02L306.62 454.86L305.04 453.67L303.48 452.46L301.92 451.23L300.38 449.98L298.84 448.71L297.32 447.42L295.81 446.11L294.31 444.78L292.82 443.44L291.35 442.07L289.89 440.69L288.44 439.28L287 437.86L285.58 436.42L284.18 434.97L282.79 433.49L281.41 432L280.05 430.49L278.71 428.97L277.39 427.42L276.08 425.86L274.79 424.29L273.51 422.7L272.26 421.09L271.03 419.47L269.81 417.84L268.61 416.19L267.44 414.52L266.29 412.85L265.15 411.15L264.04 409.45L262.95 407.73L261.89 406L260.85 404.25L259.83 402.5L258.83 400.73L257.86 398.95L256.92 397.16L256 395.35L255.1 393.54L254.24 391.72L253.4 389.88L252.58 388.04L251.8 386.18L251.04 384.32L250.31 382.45L249.61 380.56L248.94 378.67L248.3 376.77L247.69 374.87L247.11 372.95L246.56 371.03L246.04 369.1L245.56 367.16L245.11 365.22L244.69 363.27L244.3 361.32L243.94 359.36L243.61 357.39L243.32 355.42L243.05 353.45L242.82 351.48L242.61 349.5L242.44 347.51L242.3 345.53L242.18 343.54L242.1 341.55L242.05 339.57L242.03 337.58L242.03 335.59L242.07 333.6L242.13 331.61L242.23 329.62L242.35 327.64L242.5 325.65L242.68 323.67L242.89 321.69L243.13 319.71L243.39 317.74L243.69 315.77L244.01 313.81L244.36 311.85L244.73 309.9L245.14 307.95L245.57 306.01L246.03 304.07L246.51 302.14L247.03 300.22L247.57 298.31L248.13 296.4L248.72 294.5L249.34 292.62L249.99 290.74L250.66 288.87L251.35 287.01L252.07 285.16L252.82 283.33L253.59 281.5L254.39 279.69L255.21 277.88L256.06 276.09L256.93 274.31L257.82 272.54L258.73 270.78L259.67 269.03L260.63 267.3L261.62 265.57L262.62 263.85L263.64 262.15L264.69 260.46L265.76 258.77L266.84 257.1L267.95 255.44L269.08 253.79L270.22 252.15L271.38 250.52L272.56 248.9L273.76 247.29L274.98 245.7L276.22 244.11L277.47 242.53L278.73 240.97L280.02 239.41L281.32 237.87L282.63 236.33L283.96 234.81L285.31 233.29L286.67 231.79L288.04 230.3L289.43 228.81L290.83 227.34L292.24 225.88L293.66 224.43L295.1 222.98L296.55 221.55L298.01 220.13L299.48 218.72L300.96 217.31L302.46 215.92L303.96 214.54L305.47 213.17L306.99 211.81L308.52 210.45L310.06 209.11L311.61 207.78L313.16 206.46L314.73 205.14L316.3 203.84L317.87 202.55L319.45 201.26L321.04 199.99L322.64 198.72L324.24 197.47L325.84 196.22L327.45 194.99L329.06 193.76L330.68 192.55L332.3 191.34L333.93 190.14L335.56 188.95L337.19 187.77L338.83 186.6L340.47 185.44L342.12 184.28L343.77 183.14L345.42 182L347.08 180.87L348.74 179.75L350.4 178.63L352.07 177.53L353.74 176.43L355.42 175.34L357.1 174.26L358.78 173.19L360.47 172.12L362.16 171.06L363.85 170L365.55 168.96L367.25 167.92L368.95 166.88L370.66 165.86L372.37 164.84L374.08 163.82L375.8 162.82L377.52 161.82L379.24 160.82L380.97 159.83L382.7 158.85L384.43 157.87L386.17 156.9L387.91 155.93L389.65 154.97L391.39 154.01L393.14 153.06L394.89 152.11L396.64 151.17L398.4 150.23L400.16 149.3L401.92 148.37L403.68 147.45L405.45 146.53L407.22 145.61L408.99 144.7L410.77 143.8L412.55 142.9L414.33 142L416.11 141.1L417.89 140.21L419.68 139.33L421.47 138.45L423.27 137.57L425.06 136.7L426.86 135.83L428.66 134.96L430.46 134.1L432.26 133.24L434.07 132.39L435.88 131.54L437.69 130.69L439.51 129.85L441.32 129.01L443.14 128.18L444.96 127.35L446.78 126.52L448.6 125.7L450.43 124.88L452.26 124.06L454.09 123.25L455.92 122.44L457.76 121.64L459.59 120.83L461.43 120.03L463.27 119.24L465.11 118.45L466.95 117.66L468.8 116.87L470.65 116.09L472.49 115.31L474.34 114.54L476.2 113.76L478.05 112.99L479.91 112.23L481.76 111.47L483.62 110.71L485.48 109.95L487.34 109.19L489.21 108.44L491.07 107.7L492.94 106.95L494.8 106.21L496.67 105.47L498.54 104.73L500.41 104L502.29 103.27L504.16 102.54L506.04 101.81L507.91 101.09L509.79 100.37L511.67 99.65L513.55 98.94L515.43 98.22L517.31 97.51L519.2 96.81L521.08 96.1L522.97 95.4L524.85 94.7L526.74 94L528.63 93.3L530.52 92.61L532.41 91.92L534.3 91.23L536.19 90.54L538.08 89.86L539.98 89.18L541.87 88.49L543.76 87.82L545.66 87.14L547.56 86.47L549.45 85.79L551.35 85.12L553.25 84.45L555.15 83.79L557.05 83.12L558.95 82.46L560.85 81.8L562.75 81.14L564.65 80.48L566.55 79.83L568.45 79.17L570.36 78.52L572.26 77.87L574.16 77.22L576.06 76.57L577.97 75.93L579.87 75.28L581.78 74.64L583.68 74L585.58 73.36L587.49 72.72L589.39 72.08L591.3 71.44L593.2 70.81L595.11 70.18L597.02 69.55L598.92 68.92L600.83 68.29L602.74 67.66L604.64 67.04L606.55 66.41L608.46 65.79L610.36 65.17L612.27 64.56L614.18 63.94L616.09 63.32L618 62.71L619.91 62.1L621.82 61.49L623.73 60.88L625.64 60.28L627.55 59.68L629.46 59.07L631.38 58.47L633.29 57.88L635.2 57.28L637.11 56.69L639.03 56.09L640.94 55.5L642.86 54.92L644.77 54.33L646.69 53.74L648.6 53.16L650.52 52.58L652.44 52L654.35 51.43L656.27 50.85L658.19 50.28L660.11 49.71L662.03 49.14L663.95 48.58L665.87 48.01L667.79 47.45L669.71 46.89L671.63 46.34L673.55 45.78L675.48 45.23L677.4 44.68L679.33 44.13L681.25 43.59L683.18 43.04L685.1 42.5L687.03 41.96L688.96 41.43L690.89 40.89L692.81 40.36L694.74 39.83L696.67 39.31L698.6 38.78L700.54 38.26L702.47 37.74L704.4 37.22L706.33 36.71L708.27 36.2L710.2 35.69L712.14 35.18L714.07 34.68L716.01 34.18L717.95 33.68L719.89 33.18L721.83 32.69L723.77 32.2L725.71 31.71L727.65 31.22L729.59 30.74L731.54 30.26L733.48 29.78L735.42 29.31L737.37 28.83L739.32 28.36L741.26 27.9L743.21 27.43L745.16 26.97L747.11 26.51L749.06 26.06L751.01 25.61L752.96 25.16L754.92 24.71L756.87 24.27L758.83 23.82L760.78 23.39L762.74 22.95L764.7 22.52L766.66 22.09L768.62 21.66L770.58 21.24L772.54 20.82L774.5 20.4L776.47 19.99L778.43 19.58L780.4 19.17L782.36 18.77L784.33 18.37L786.3 17.97L788.27 17.57L790.24 17.18L792.21 16.79L794.18 16.41L796.16 16.02L798.13 15.65L800.11 15.27L802.08 14.9L804.06 14.53L806.04 14.16L808.02 13.8L810 13.44" stroke="#0000ff"/>
<path d="M313.2 516.5L311.3 515.95L309.4 515.39L307.51 514.79L305.63 514.17L303.76 513.53L301.89 512.87L300.02 512.18L298.17 511.46L296.32 510.72L294.48 509.96L292.65 509.18L290.83 508.37L289.01 507.54L287.21 506.68L285.41 505.8L283.62 504.91L281.85 503.98L280.08 503.04L278.32 502.07L276.57 501.09L274.84 500.08L273.11 499.05L271.39 498L269.69 496.92L268 495.83L266.32 494.72L264.65 493.58L262.99 492.43L261.35 491.25L259.72 490.06L258.1 488.84L256.5 487.61L254.91 486.35L253.33 485.08L251.77 483.79L250.22 482.48L248.69 481.15L247.17 479.8L245.66 478.43L244.18 477.05L242.7 475.65L241.25 474.23L239.8 472.79L238.38 471.33L236.97 469.86L235.58 468.37L234.21 466.86L232.85 465.34L231.51 463.8L230.19 462.25L228.88 460.67L227.6 459.08L226.33 457.48L225.08 455.86L223.85 454.23L222.64 452.58L221.45 450.92L220.28 449.24L219.13 447.56L217.99 445.85L216.88 444.14L215.79 442.41L214.72 440.67L213.67 438.92L212.64 437.16L211.63 435.38L210.64 433.59L209.67 431.8L208.73 429.99L207.81 428.17L206.91 426.35L206.03 424.51L205.17 422.67L204.34 420.81L203.53 418.95L202.75 417.08L201.98 415.2L201.24 413.31L200.53 411.42L199.84 409.52L199.17 407.61L198.53 405.7L197.91 403.78L197.32 401.86L196.75 399.93L196.2 397.99L195.69 396.05L195.19 394.11L194.73 392.16L194.29 390.21L193.88 388.25L193.49 386.29L193.13 384.33L192.79 382.37L192.49 380.4L192.21 378.43L191.96 376.46L191.73 374.49L191.54 372.52L191.37 370.55L191.23 368.58L191.12 366.6L191.04 364.63L190.99 362.66L190.96 360.69L190.97 358.72L191 356.75L191.07 354.79L191.16 352.82L191.29 350.86L191.44 348.9L191.62 346.94L191.82 344.99L192.06 343.04L192.32 341.09L192.61 339.15L192.93 337.21L193.28 335.28L193.65 333.35L194.05 331.43L194.48 329.51L194.93 327.59L195.41 325.69L195.91 323.78L196.44 321.89L197 320L197.58 318.12L198.18 316.24L198.82 314.37L199.47 312.51L200.15 310.66L200.86 308.81L201.59 306.97L202.34 305.15L203.11 303.33L203.91 301.52L204.74 299.71L205.58 297.92L206.45 296.14L207.34 294.37L208.26 292.61L209.2 290.86L210.15 289.12L211.13 287.39L212.14 285.67L213.16 283.96L214.2 282.27L215.27 280.59L216.36 278.92L217.46 277.26L218.59 275.61L219.73 273.98L220.9 272.35L222.08 270.74L223.28 269.14L224.5 267.55L225.74 265.97L226.99 264.4L228.26 262.85L229.54 261.3L230.85 259.77L232.16 258.24L233.49 256.72L234.84 255.22L236.2 253.72L237.57 252.24L238.95 250.76L240.35 249.3L241.76 247.84L243.18 246.39L244.62 244.96L246.06 243.53L247.52 242.11L248.98 240.7L250.45 239.3L251.94 237.9L253.43 236.52L254.93 235.14L256.44 233.77L257.96 232.41L259.48 231.06L261.01 229.72L262.55 228.38L264.09 227.05L265.64 225.73L267.19 224.42L268.75 223.11L270.32 221.81L271.88 220.52L273.45 219.23L275.03 217.96L276.61 216.68L278.19 215.42L279.77 214.16L281.36 212.91L282.96 211.67L284.56 210.43L286.16 209.2L287.77 207.97L289.37 206.76L290.99 205.55L292.61 204.34L294.23 203.15L295.85 201.95L297.48 200.77L299.11 199.59L300.75 198.42L302.39 197.25L304.03 196.1L305.67 194.94L307.32 193.8L308.98 192.66L310.63 191.52L312.3 190.39L313.96 189.27L315.63 188.16L317.3 187.05L318.97 185.94L320.65 184.85L322.33 183.76L324.01 182.67L325.7 181.59L327.39 180.52L329.08 179.45L330.78 178.39L332.48 177.33L334.18 176.28L335.89 175.23L337.6 174.19L339.31 173.16L341.03 172.13L342.75 171.11L344.47 170.09L346.19 169.08L347.92 168.07L349.65 167.07L351.39 166.07L353.12 165.08L354.86 164.1L356.6 163.12L358.35 162.14L360.1 161.17L361.85 160.21L363.6 159.25L365.36 158.29L367.12 157.34L368.88 156.4L370.64 155.46L372.41 154.52L374.18 153.59L375.95 152.67L377.72 151.75L379.5 150.83L381.28 149.92L383.06 149.01L384.85 148.11L386.63 147.21L388.42 146.32L390.22 145.43L392.01 144.55L393.81 143.67L395.61 142.8L397.41 141.93L399.21 141.06L401.02 140.2L402.82 139.34L404.63 138.49L406.45 137.64L408.26 136.79L410.08 135.95L411.9 135.12L413.72 134.29L415.54 133.46L417.37 132.63L419.19 131.81L421.02 131L422.85 130.18L424.69 129.38L426.52 128.57L428.36 127.77L430.2 126.97L432.04 126.18L433.88 125.39L435.72 124.6L437.57 123.82L439.42 123.04L441.27 122.27L443.12 121.49L444.97 120.73L446.83 119.96L448.68 119.2L450.54 118.44L452.4 117.69L454.26 116.93L456.12 116.19L457.99 115.44L459.85 114.7L461.72 113.96L463.59 113.22L465.46 112.49L467.33 111.76L469.2 111.03L471.08 110.31L472.95 109.59L474.83 108.87L476.71 108.16L478.58 107.44L480.46 106.73L482.35 106.03L484.23 105.32L486.11 104.62L488 103.92L489.89 103.23L491.77 102.53L493.66 101.84L495.55 101.15L497.44 100.47L499.33 99.78L501.23 99.1L503.12 98.42L505.01 97.75L506.91 97.07L508.8 96.4L510.7 95.73L512.6 95.06L514.5 94.39L516.4 93.73L518.3 93.07L520.2 92.41L522.1 91.75L524 91.1L525.91 90.44L527.81 89.79L529.71 89.14L531.62 88.49L533.53 87.85L535.43 87.2L537.34 86.56L539.25 85.92L541.15 85.28L543.06 84.64L544.97 84L546.88 83.37L548.79 82.74L550.7 82.1L552.61 81.47L554.52 80.84L556.43 80.22L558.34 79.59L560.25 78.96L562.16 78.34L564.07 77.72L565.98 77.09L567.9 76.47L569.81 75.85L571.72 75.24L573.63 74.62L575.55 74L577.46 73.39L579.37 72.77L581.28 72.16L583.19 71.55L585.11 70.93L587.02 70.32L588.93 69.71L590.84 69.1L592.76 68.49L594.67 67.89L596.58 67.28L598.49 66.68L600.41 66.07L602.32 65.47L604.23 64.87L606.14 64.27L608.06 63.67L609.97 63.07L611.88 62.47L613.8 61.88L615.71 61.28L617.62 60.69L619.54 60.1L621.45 59.51L623.37 58.92L625.28 58.33L627.2 57.75L629.11 57.16L631.03 56.58L632.94 56L634.86 55.42L636.78 54.84L638.69 54.26L640.61 53.69L642.53 53.11L644.44 52.54L646.36 51.97L648.28 51.4L650.2 50.83L652.12 50.27L654.04 49.71L655.96 49.14L657.88 48.59L659.8 48.03L661.72 47.47L663.64 46.92L665.57 46.37L667.49 45.82L669.41 45.27L671.34 44.72L673.26 44.18L675.19 43.63L677.11 43.09L679.04 42.56L680.96 42.02L682.89 41.49L684.82 40.96L686.75 40.43L688.68 39.9L690.61 39.38L692.54 38.85L694.47 38.33L696.4 37.81L698.33 37.3L700.27 36.79L702.2 36.28L704.14 35.77L706.07 35.26L708.01 34.76L709.94 34.26L711.88 33.76L713.82 33.26L715.76 32.77L717.7 32.28L719.64 31.79L721.58 31.31L723.52 30.82L725.47 30.34L727.41 29.87L729.36 29.39L731.3 28.92L733.25 28.45L735.2 27.98L737.15 27.52L739.09 27.06L741.05 26.6L743 26.15L744.95 25.7L746.9 25.25L748.86 24.8L750.81 24.36L752.77 23.92L754.73 23.48L756.69 23.05L758.64 22.62L760.61 22.19L762.57 21.77L764.53 21.35L766.49 20.93L768.46 20.51L770.42 20.1L772.39 19.69L774.36 19.29L776.33 18.89L778.3 18.49L780.27 18.1L782.25 17.71L784.22 17.32L786.2 16.93L788.17 16.55L790.15 16.17L792.13 15.8L794.11 15.43L796.09 15.06L798.07 14.7L800.06 14.34L802.04 13.99L804.03 13.63L806.02 13.29L808.01 12.94L810 12.6" stroke="#ff0000" stroke-width="3.8" stroke-dasharray="4.3 9.4" stroke-linecap="round"/>
</g>
<rect x="116.5" y="15.3" width="689" height="501.4" fill="none" stroke="#000" stroke-width="2.5"/>
<path d="M116.5 516.7v9.7M116.5 15.3v9.7M214.88 516.7v4.6M214.88 15.3v4.6M313.25 516.7v9.7M313.25 15.3v9.7M411.63 516.7v4.6M411.63 15.3v4.6M510 516.7v9.7M510 15.3v9.7M608.38 516.7v4.6M608.38 15.3v4.6M706.75 516.7v9.7M706.75 15.3v9.7M805.13 516.7v4.6M805.13 15.3v4.6M116.5 516.5h-9.7M805.5 516.5h-9.7M116.5 476.05h-4.6M805.5 476.05h-4.6M116.5 435.6h-9.7M805.5 435.6h-9.7M116.5 395.15h-4.6M805.5 395.15h-4.6M116.5 354.7h-9.7M805.5 354.7h-9.7M116.5 314.25h-4.6M805.5 314.25h-4.6M116.5 273.8h-9.7M805.5 273.8h-9.7M116.5 233.35h-4.6M805.5 233.35h-4.6M116.5 192.9h-9.7M805.5 192.9h-9.7M116.5 152.45h-4.6M805.5 152.45h-4.6M116.5 112h-9.7M805.5 112h-9.7M116.5 71.55h-4.6M805.5 71.55h-4.6M116.5 31.1h-9.7M805.5 31.1h-9.7" fill="none" stroke="#000" stroke-width="2.5"/>
<text transform="translate(99.9 526.7) scale(0.94 1)" font-size="31.5" text-anchor="end">0.00</text>
<text transform="translate(99.9 445.8) scale(0.94 1)" font-size="31.5" text-anchor="end">0.05</text>
<text transform="translate(99.9 364.9) scale(0.94 1)" font-size="31.5" text-anchor="end">0.10</text>
<text transform="translate(99.9 284) scale(0.94 1)" font-size="31.5" text-anchor="end">0.15</text>
<text transform="translate(99.9 203.1) scale(0.94 1)" font-size="31.5" text-anchor="end">0.20</text>
<text transform="translate(99.9 122.2) scale(0.94 1)" font-size="31.5" text-anchor="end">0.25</text>
<text transform="translate(99.9 41.3) scale(0.94 1)" font-size="31.5" text-anchor="end">0.30</text>
<text transform="translate(117 556.6) scale(0.94 1)" font-size="31.5" text-anchor="middle">-1.1</text>
<text transform="translate(313.75 556.6) scale(0.94 1)" font-size="31.5" text-anchor="middle">-1.0</text>
<text transform="translate(510.5 556.6) scale(0.94 1)" font-size="31.5" text-anchor="middle">-0.9</text>
<text transform="translate(707.25 556.6) scale(0.94 1)" font-size="31.5" text-anchor="middle">-0.8</text>
<g transform="translate(29.8 336) rotate(-90)" font-size="40"><text x="0" y="0">k</text><text x="23.8" y="10.8" font-size="28.5">B</text><text x="42.4" y="0">T</text><text x="71" y="0">/</text><text x="82.1" y="0">W</text><text x="122.6" y="10.8" font-size="28.5">T</text></g>
<g font-size="40"><text transform="translate(414.3 590.4) scale(1.2 1)" x="0" y="0" style="font-weight:normal">μ</text><text transform="translate(446.1 590.4) scale(1.18 1)" x="0" y="0" text-anchor="middle">/</text><text x="451.5" y="590.4">W</text><text x="491.5" y="601" font-size="28">1</text></g><rect x="415.3" y="553.7" width="23.5" height="2.9" fill="#000"/>
<text x="186" y="124.6" font-size="41.5">NO</text><text x="487.3" y="242.4" font-size="41.5">DCO</text>
<path d="M154.2 373.7L294.78 323.43" stroke="#ff0000" stroke-width="3.6" fill="none"/>
<path d="M312.2 317.2L295.09 330.22L290.71 317.98Z" fill="#ff0000"/>
<path d="M627.8 24.1L662.66 88.15" stroke="#ff0000" stroke-width="3.6" fill="none"/>
<path d="M671.5 104.4L655.99 89.5L667.41 83.29Z" fill="#ff0000"/>
<rect x="307.2" y="454.4" width="10" height="10" fill="#ff8000" stroke="#0000ff" stroke-width="1.6"/>
<rect x="308.7" y="389.7" width="9.6" height="9.6" fill="#ff8000" stroke="#008000" stroke-width="1.6"/>
<rect x="535.3" y="291.9" width="257.2" height="219.1" fill="#fff"/><rect x="539.3" y="295.9" width="249.2" height="211.1" fill="#d9d9d9" stroke="#000" stroke-width="2"/><g clip-path="url(#ic)" fill="none" stroke="#0000ff" stroke-width="4" stroke-linejoin="round"><path d="M586.3 296C585.4 300 584.22 304.07 583.6 308C583.01 311.73 582.65 315.33 582.6 319C582.55 322.66 582.83 326.32 583.3 330C583.78 333.76 584.56 337.29 585.5 341.3C586.59 345.94 587.85 351.3 589.6 356.2C591.4 361.23 593.83 366.26 596.2 371.1C598.53 375.86 600.48 379.96 603.7 385C607.97 391.66 613.97 399.81 620.3 407.1C627.3 415.16 636.31 424.44 644.2 431C650.85 436.53 657.65 440.73 664 444.6C669.52 447.97 674.86 450.37 680 453.2C684.84 455.86 689.33 458.47 694 461.1"/><path d="M694 461.1L697.9 448"/><path d="M694 461.1C694.6 475 695.4 490 695.3 508"/></g><path d="M540.3 461.3H740.5" stroke="#000" stroke-width="1.5" stroke-dasharray="2.8 1.4" fill="none"/><rect x="689.9" y="457" width="8.2" height="8.2" fill="#ff8000" stroke="#0000ff" stroke-width="1.1"/><path d="M699.5 436.4L706 442.9L699.5 449.4L693 442.9Z" fill="#ff8000" stroke="#0000ff" stroke-width="1.1"/><text x="681.2" y="372.6" font-size="31">DCO</text><text x="558.2" y="452" font-size="31">NO</text><text x="744.5" y="470.5" font-size="30" font-style="italic">T</text><text x="764.2" y="456.6" font-size="18.5" style="font-weight:normal">*</text><text transform="translate(763.4 479.5) scale(1.16 1)" x="0" y="0" font-size="17.8">c1</text>
</svg></body></html>
